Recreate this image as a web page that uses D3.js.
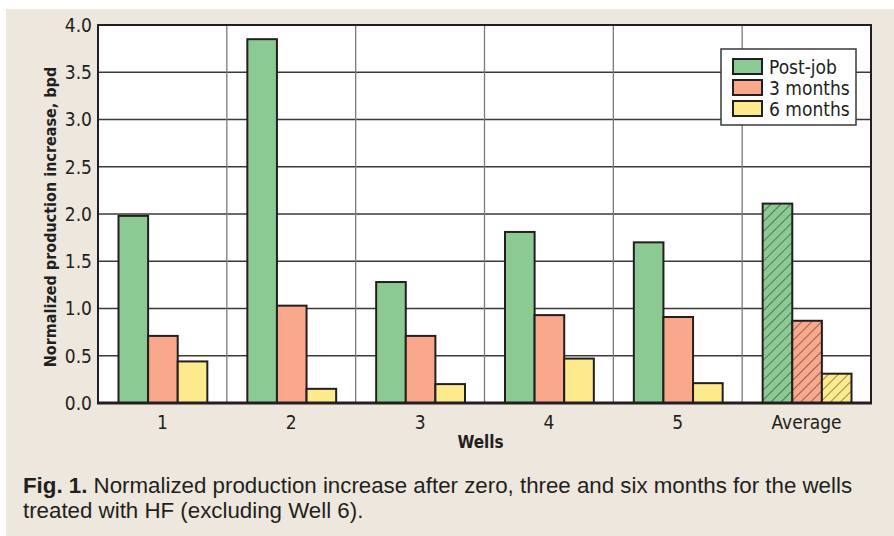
<!DOCTYPE html>
<html>
<head>
<meta charset="utf-8">
<script src="https://cdn.jsdelivr.net/npm/d3@7"></script>
<style>
  body { margin: 0; background: #fff; }
  svg text { font-family: "DejaVu Sans Condensed", "Liberation Sans", sans-serif; fill: #231f20; }
  svg text.caption { font-family: "Liberation Sans", Arial, sans-serif; }
</style>
</head>
<body>
<div id="chart"></div>
<script>
const wells = ["1", "2", "3", "4", "5", "Average"];
const seriesNames = ["Post-job", "3 months", "6 months"];
const postJob = [1.98, 3.85, 1.28, 1.81, 1.70, 2.11];
const threeMonths = [0.71, 1.03, 0.71, 0.93, 0.91, 0.87];
const sixMonths = [0.44, 0.15, 0.20, 0.47, 0.21, 0.31];
const yTicks = [0, 0.5, 1.0, 1.5, 2.0, 2.5, 3.0, 3.5, 4.0];
const captionBold = "Fig. 1.";
const captionLines = [" Normalized production increase after zero, three and six months for the wells", "treated with HF (excluding Well 6)."];

(() => {
    const width = 894, height = 536, margin = { top: 25, right: 23, bottom: 133, left: 98 };
    const colors = ["#8cca93", "#f9a88c", "#fdea8c"];
    const values = [postJob, threeMonths, sixMonths];

    const data = wells.flatMap((w, i) => seriesNames.map((s, j) => ({ well: w, series: s, value: values[j][i], idx: j })));

    const svg = d3.select("#chart").append("svg")
        .attr("width", width)
        .attr("height", height);

    const defs = svg.append("defs");
    colors.forEach((c, j) => {
        const p = defs.append("pattern")
            .attr("id", "hatch" + j)
            .attr("patternUnits", "userSpaceOnUse")
            .attr("width", 7).attr("height", 7)
            .attr("patternTransform", "rotate(45)");
        p.append("rect").attr("width", 7).attr("height", 7).attr("fill", c);
        p.append("line").attr("x1", 0).attr("y1", 0).attr("x2", 0).attr("y2", 7)
            .attr("stroke", "#231f20").attr("stroke-width", 1);
    });

    // beige panel
    svg.append("rect")
        .attr("x", 6).attr("y", 9)
        .attr("width", width - 6).attr("height", height - 9)
        .attr("fill", "#ede7dd");

    const innerW = width - margin.left - margin.right;
    const innerH = height - margin.top - margin.bottom;

    const x = d3.scaleBand().domain(wells).range([0, innerW]).padding(0);
    const xSub = d3.scaleBand().domain(seriesNames).range([20.5, x.bandwidth() - 19.5]).padding(0);
    const y = d3.scaleLinear().domain([0, 4]).range([innerH, 0]);

    const chart = svg.append("g").attr("transform", `translate(${margin.left},${margin.top})`);

    chart.append("rect").attr("width", innerW).attr("height", innerH).attr("fill", "#fff");

    // horizontal grid
    chart.append("g").selectAll("line")
        .data(yTicks)
        .enter().append("line")
        .attr("x1", 0).attr("x2", innerW)
        .attr("y1", d => y(d)).attr("y2", d => y(d))
        .attr("stroke", "#3a3a3a").attr("stroke-width", 1.3);

    // vertical grid
    chart.append("g").selectAll("line")
        .data(wells.slice(1))
        .enter().append("line")
        .attr("x1", d => x(d)).attr("x2", d => x(d))
        .attr("y1", 0).attr("y2", innerH)
        .attr("stroke", "#7a7a7a").attr("stroke-width", 1.3);

    // bars
    chart.selectAll(".bar")
        .data(data)
        .enter().append("rect")
        .attr("class", "bar")
        .attr("x", d => x(d.well) + xSub(d.series))
        .attr("y", d => y(d.value))
        .attr("width", xSub.bandwidth())
        .attr("height", d => innerH - y(d.value))
        .attr("fill", d => d.well === "Average" ? `url(#hatch${d.idx})` : colors[d.idx])
        .attr("stroke", "#231f20")
        .attr("stroke-width", 2);

    // frame
    chart.append("rect")
        .attr("width", innerW).attr("height", innerH)
        .attr("fill", "none").attr("stroke", "#231f20").attr("stroke-width", 2);
    chart.append("line")
        .attr("x1", -1).attr("x2", innerW + 1).attr("y1", innerH).attr("y2", innerH)
        .attr("stroke", "#231f20").attr("stroke-width", 3);

    // y axis labels
    chart.append("g").selectAll("text")
        .data(yTicks)
        .enter().append("text")
        .attr("x", -6)
        .attr("y", d => y(d))
        .attr("dy", "0.36em")
        .attr("text-anchor", "end")
        .style("font-size", "19px")
        .text(d => d3.format(".1f")(d));

    // x axis labels
    chart.append("g").selectAll("text")
        .data(wells)
        .enter().append("text")
        .attr("x", d => x(d) + x.bandwidth() / 2)
        .attr("y", innerH + 26)
        .attr("text-anchor", "middle")
        .style("font-size", "19px")
        .text(d => d);

    chart.append("text")
        .attr("x", innerW / 2 - 4)
        .attr("y", innerH + 45)
        .attr("text-anchor", "middle")
        .style("font-size", "17px")
        .style("font-weight", "bold")
        .text("Wells");

    chart.append("text")
        .attr("transform", `translate(-42,${innerH / 2 + 3}) rotate(-90)`)
        .attr("text-anchor", "middle")
        .style("font-size", "16px")
        .style("font-weight", "bold")
        .text("Normalized production increase, bpd");

    // legend
    const legend = svg.append("g").attr("transform", "translate(721,49)");
    legend.append("rect")
        .attr("width", 135).attr("height", 76)
        .attr("fill", "#fff").attr("stroke", "#3a3a3a").attr("stroke-width", 1.5);
    seriesNames.forEach((s, j) => {
        legend.append("rect")
            .attr("x", 12).attr("y", 10 + j * 21)
            .attr("width", 29).attr("height", 15)
            .attr("fill", colors[j]).attr("stroke", "#231f20").attr("stroke-width", 2);
        legend.append("text")
            .attr("x", 48).attr("y", 18 + j * 21)
            .attr("dy", "0.36em")
            .style("font-size", "19px")
            .text(s);
    });

    // caption
    const cap = svg.append("text").attr("class", "caption").attr("x", 23).attr("y", 493).style("font-size", "22.3px");
    cap.append("tspan").style("font-weight", "bold").text(captionBold);
    cap.append("tspan").text(captionLines[0]);
    svg.append("text").attr("class", "caption").attr("x", 23).attr("y", 518).style("font-size", "22.3px").text(captionLines[1]);
})();
</script>
</body>
</html>
